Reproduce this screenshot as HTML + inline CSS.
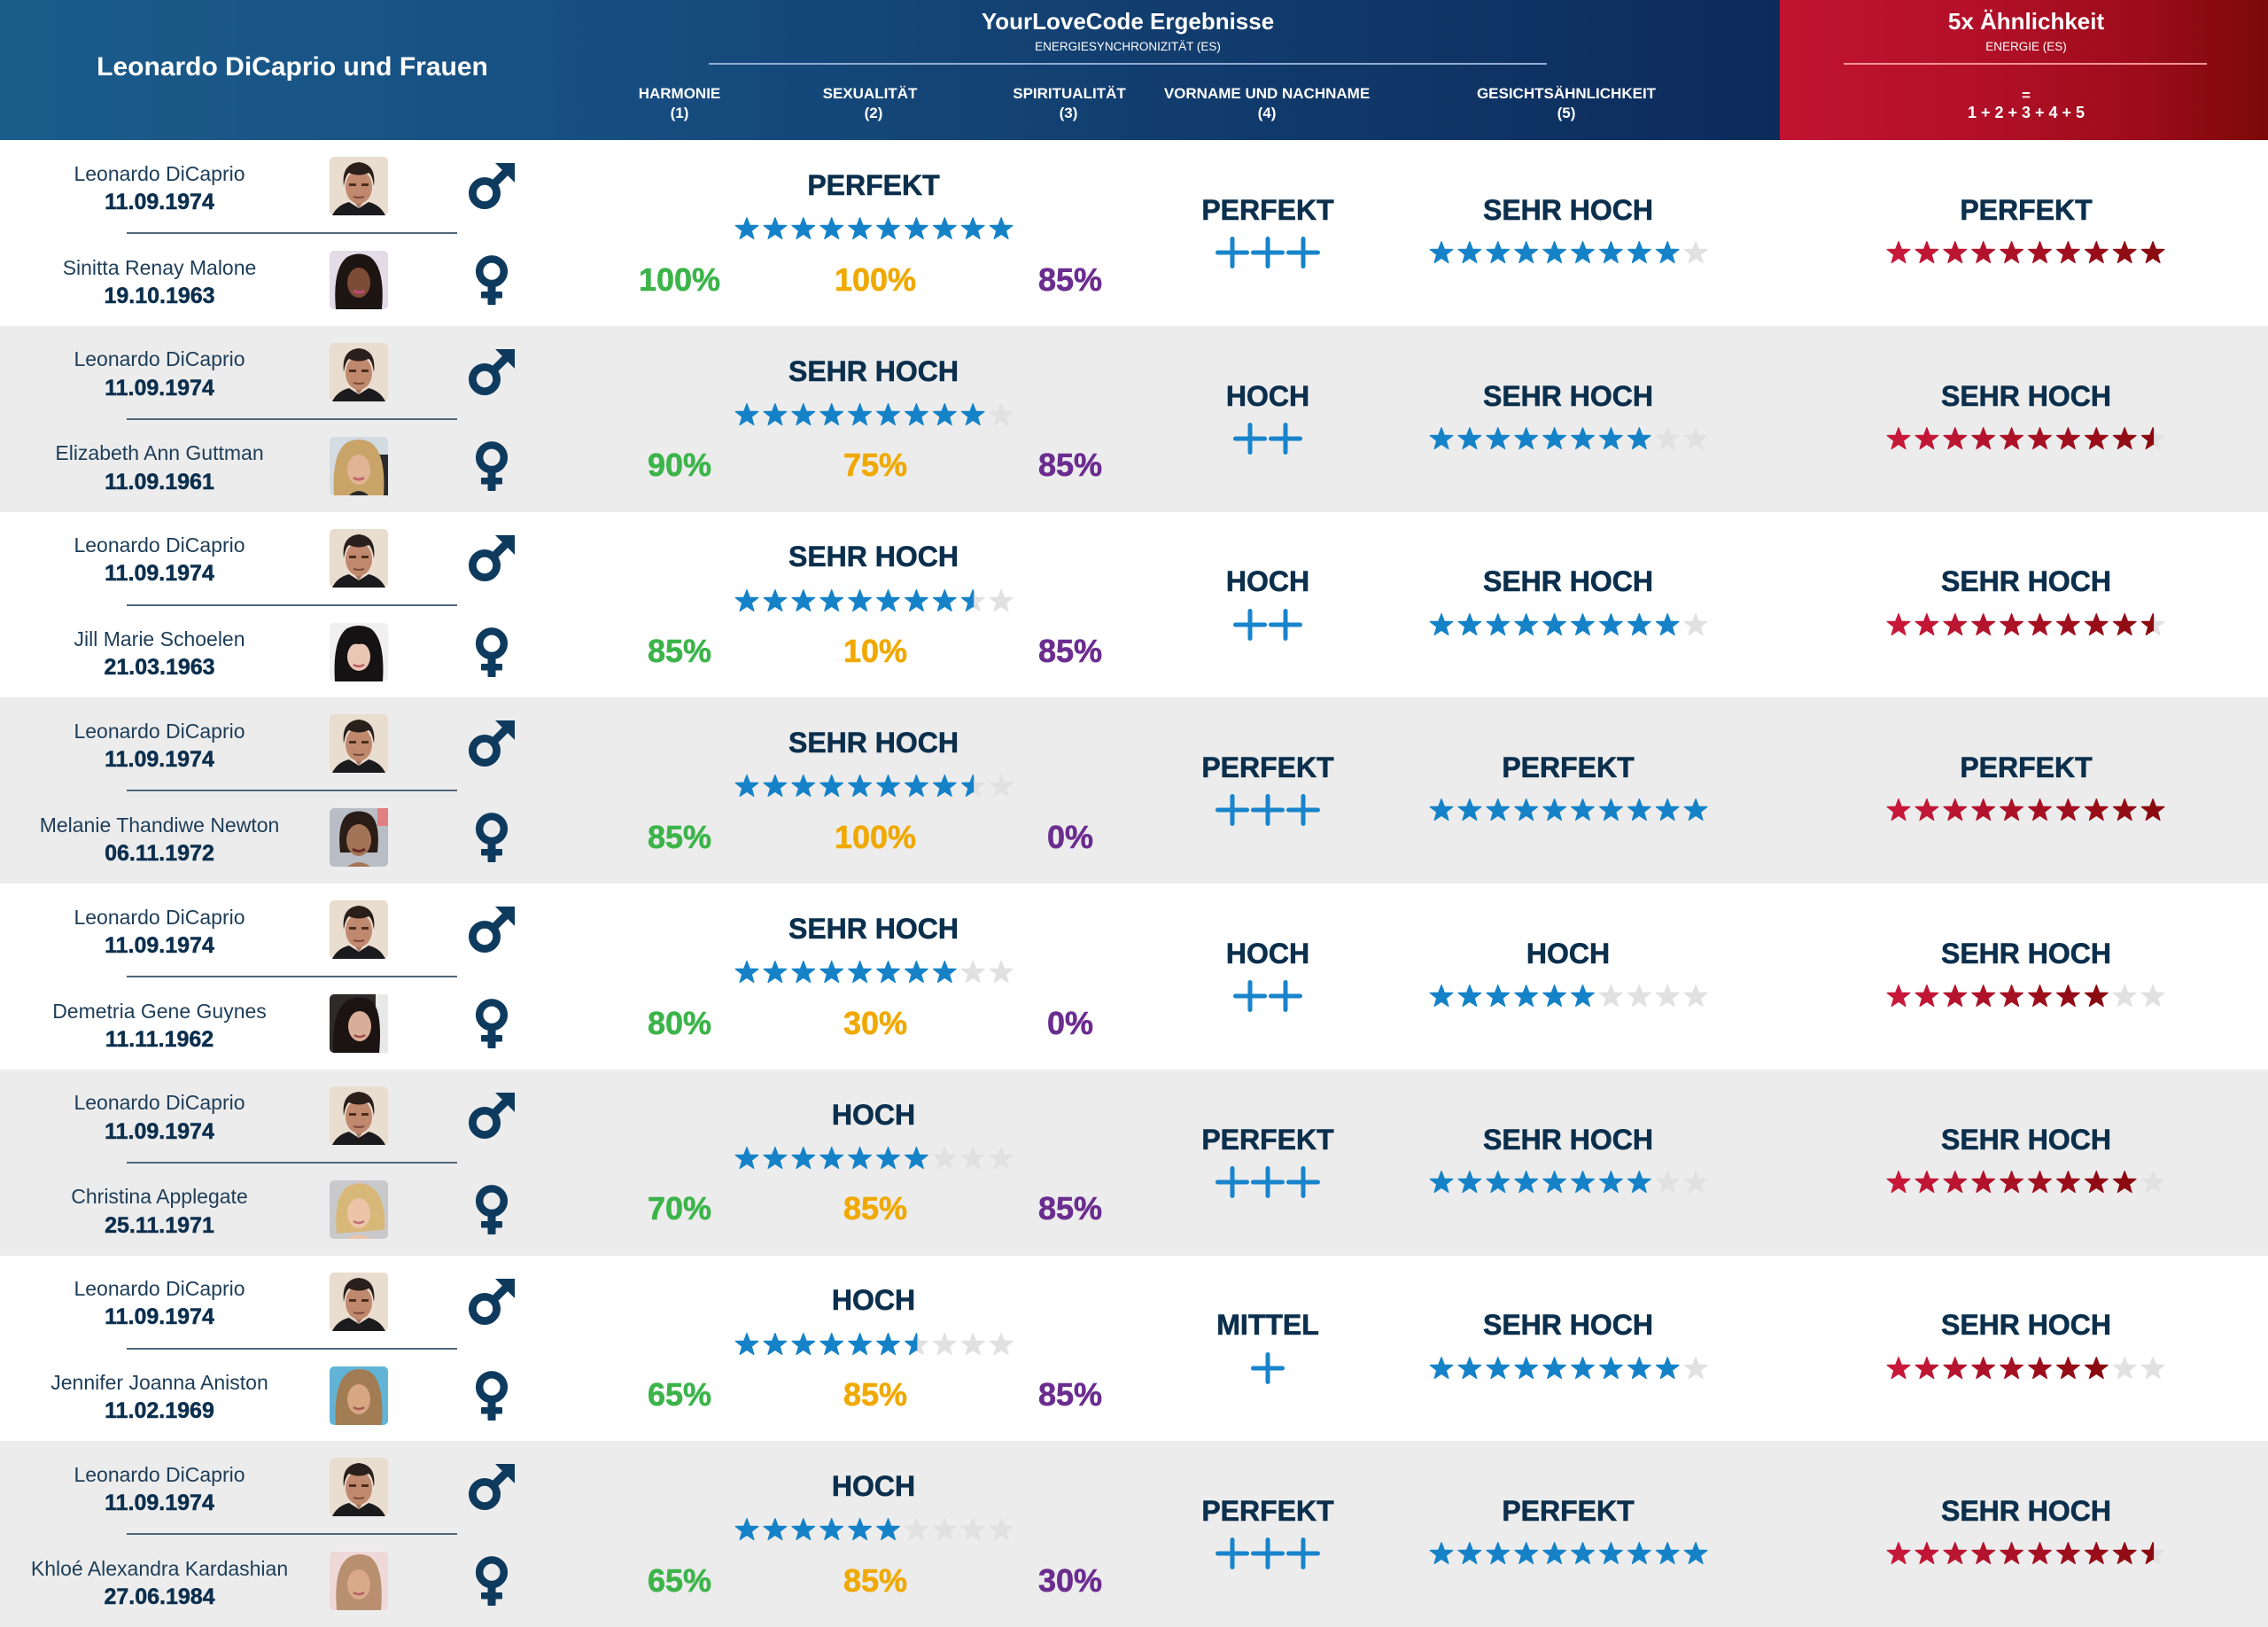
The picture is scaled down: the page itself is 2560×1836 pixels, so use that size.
<!DOCTYPE html>
<html><head><meta charset="utf-8">
<style>
*{box-sizing:border-box}
body{margin:0;width:2560px;height:1836px;overflow:hidden;background:#fff;font-family:"Liberation Sans",sans-serif;position:relative}
.a{position:absolute}
.c{position:absolute;transform:translateX(-50%);white-space:nowrap;line-height:1}
.hb{position:absolute;left:0;top:0;width:2009px;height:158px;background:linear-gradient(90deg,#1b5c8b 0%,#175083 30%,#123f70 62%,#0c2b5b 100%)}
.hr{position:absolute;left:2009px;top:0;width:551px;height:158px;background:linear-gradient(90deg,#c11331 0%,#b31029 40%,#9c0c19 75%,#7b0909 100%)}
.ch{font-size:17px;font-weight:bold;top:97.3px;color:#fff}
.cn{font-size:17px;font-weight:bold;top:118.7px;color:#fff}
.row{position:absolute;left:0;width:2560px;height:209.75px}
.gr{background:#ececec}
.n1,.n2{font-size:23px;color:#1d3d58;left:180px}
.n1{top:26.5px}.n2{top:132.5px}
.d1,.d2{font-size:25px;font-weight:bold;color:#0c2f4e;left:180px;-webkit-text-stroke:0.5px #0c2f4e}
.d1{top:57.8px}.d2{top:163.8px}
.sep{position:absolute;left:143px;top:104px;width:373px;height:2px;background:#4f677b}
.ph{position:absolute;left:372px;width:66px;height:66px}
.ph1{top:19px}.ph2{top:125px}
.ms{position:absolute;left:529px;top:26px;width:52px;height:52px}
.fs{position:absolute;left:537px;top:130px;width:36px;height:56px}
.p{font-size:36px;font-weight:bold;top:139.5px;-webkit-text-stroke:0.6px currentColor}
.pg{left:767px;color:#3cb44a}
.po{left:988px;color:#f0a900}
.pp{left:1208px;color:#6b2d8f}
.l{font-size:32px;font-weight:bold;color:#0b2f4c;-webkit-text-stroke:0.6px #0b2f4c}
.l2{left:986px;top:34.9px}
.l4{left:1431px;top:62.9px}
.l5{left:1770px;top:62.9px}
.l6{left:2287px;top:62.9px}
.s{position:absolute;overflow:visible}
.s2{left:830px;top:87px}
.s5{left:1614px;top:114px}
.s6{left:2130px;top:114px}
.s use{fill:currentColor;stroke:currentColor;stroke-width:1.2px;stroke-linejoin:round}
.s .b{color:#1582c8}
.s .g{color:#e1e1e1}
.pl{position:absolute;top:109px}
.pl rect{fill:#1884cb}
</style></head><body>
<svg width="0" height="0" style="position:absolute"><defs>
<path id="st" d="M13 0.6 L16.3 9.2 L25.8 9.5 L18.3 15.4 L20.9 24.5 L13 19.3 L5.1 24.5 L7.7 15.4 L0.2 9.5 L9.7 9.2Z"/>
<symbol id="male" viewBox="0 0 52 52">
<circle cx="18" cy="34" r="13.6" fill="none" stroke="#0e3a5e" stroke-width="8.8"/>
<path d="M26 26 L45 7" stroke="#0e3a5e" stroke-width="8.8"/>
<path d="M30 0 H52 V22 Z" fill="#0e3a5e"/>
</symbol>
<symbol id="fem" viewBox="0 0 36 56">
<circle cx="18" cy="18.2" r="13.8" fill="none" stroke="#0e3a5e" stroke-width="8.5"/>
<rect x="13.5" y="30" width="9" height="26" rx="1" fill="#0e3a5e"/>
<rect x="6" y="41" width="24" height="7.5" rx="1" fill="#0e3a5e"/>
</symbol>
<symbol id="leo" viewBox="0 0 66 66">
<rect width="66" height="66" rx="5" fill="#e9ddcf"/>
<path d="M3 66 Q9 54 22 51 L33 58 L44 51 Q57 54 63 66Z" fill="#1b1a1d"/>
<path d="M26 48 L33 58 L40 48Z" fill="#a87560"/>
<ellipse cx="33" cy="34" rx="15" ry="19" fill="#c0896e"/>
<path d="M16 33 Q13 8 33 6 Q53 8 50 33 Q48 20 44 18 Q33 23 22 18 Q18 21 16 33Z" fill="#2a1f1a"/>
<rect x="22" y="30" width="8" height="3" fill="#4a2e22"/><rect x="36" y="30" width="8" height="3" fill="#4a2e22"/>
<path d="M27 45 Q33 47 39 45" stroke="#7a4a3a" stroke-width="2" fill="none"/>
</symbol>
</defs></svg>

<!-- HEADER -->
<div class="hb"></div>
<div class="hr"></div>
<div class="c" style="left:330px;top:60.6px;font-size:30px;font-weight:bold;color:#fff">Leonardo DiCaprio und Frauen</div>
<div class="c" style="left:1273px;top:11.3px;font-size:26px;font-weight:bold;color:#fff">YourLoveCode Ergebnisse</div>
<div class="c" style="left:1273px;top:45.6px;font-size:13.5px;color:#fff">ENERGIESYNCHRONIZITÄT (ES)</div>
<div class="a" style="left:800px;top:71px;width:946px;height:2px;background:#93acd0"></div>
<div class="c ch" style="left:767px">HARMONIE</div><div class="c cn" style="left:767px">(1)</div>
<div class="c ch" style="left:982px">SEXUALITÄT</div><div class="c cn" style="left:986px">(2)</div>
<div class="c ch" style="left:1207px">SPIRITUALITÄT</div><div class="c cn" style="left:1206px">(3)</div>
<div class="c ch" style="left:1430px">VORNAME UND NACHNAME</div><div class="c cn" style="left:1430px">(4)</div>
<div class="c ch" style="left:1768px">GESICHTSÄHNLICHKEIT</div><div class="c cn" style="left:1768px">(5)</div>
<div class="c" style="left:2287px;top:11.3px;font-size:26px;font-weight:bold;color:#fff">5x Ähnlichkeit</div>
<div class="c" style="left:2287px;top:45.6px;font-size:13.5px;color:#fff">ENERGIE (ES)</div>
<div class="a" style="left:2081px;top:71px;width:410px;height:2px;background:#f1939b"></div>
<div class="c" style="left:2287px;top:98.6px;font-size:17px;font-weight:bold;color:#fff">=</div>
<div class="c" style="left:2287px;top:117.8px;font-size:18px;font-weight:bold;color:#fff">1 + 2 + 3 + 4 + 5</div>

<!-- ROW 1 -->
<div class="row" style="top:158px">
<div class="c n1">Leonardo DiCaprio</div><div class="c d1">11.09.1974</div>
<div class="sep"></div>
<div class="c n2">Sinitta Renay Malone</div><div class="c d2">19.10.1963</div>
<svg class="ph ph1"><use href="#leo"/></svg>
<svg class="ph ph2" viewBox="0 0 66 66"><rect width="66" height="66" rx="5" fill="#e3dbe6"/><path d="M7 66 Q3 20 20 7 Q33 0 46 7 Q63 20 59 66Z" fill="#1d1512"/><ellipse cx="33" cy="36" rx="13" ry="17" fill="#7d4c36"/><path d="M27 45 Q33 49 39 45" stroke="#c44a7a" stroke-width="3" fill="none"/></svg>
<svg class="ms"><use href="#male"/></svg><svg class="fs"><use href="#fem"/></svg>
<div class="c l l2">PERFEKT</div>
<svg class="s s2" width="314" height="26"><use href="#st" x="0" class="b"/><use href="#st" x="31.9" class="b"/><use href="#st" x="63.8" class="b"/><use href="#st" x="95.7" class="b"/><use href="#st" x="127.6" class="b"/><use href="#st" x="159.5" class="b"/><use href="#st" x="191.4" class="b"/><use href="#st" x="223.3" class="b"/><use href="#st" x="255.2" class="b"/><use href="#st" x="287.1" class="b"/></svg>
<div class="c p pg">100%</div><div class="c p po">100%</div><div class="c p pp">85%</div>
<div class="c l l4">PERFEKT</div>
<svg class="pl" style="left:1372px" width="118" height="36"><rect x="0" y="15.5" width="38" height="5" rx="2.5"/><rect x="16.5" y="0" width="5" height="36" rx="2.5"/><rect x="40" y="15.5" width="38" height="5" rx="2.5"/><rect x="56.5" y="0" width="5" height="36" rx="2.5"/><rect x="80" y="15.5" width="38" height="5" rx="2.5"/><rect x="96.5" y="0" width="5" height="36" rx="2.5"/></svg>
<div class="c l l5">SEHR HOCH</div>
<svg class="s s5" width="314" height="26"><use href="#st" x="0" class="b"/><use href="#st" x="31.9" class="b"/><use href="#st" x="63.8" class="b"/><use href="#st" x="95.7" class="b"/><use href="#st" x="127.6" class="b"/><use href="#st" x="159.5" class="b"/><use href="#st" x="191.4" class="b"/><use href="#st" x="223.3" class="b"/><use href="#st" x="255.2" class="b"/><use href="#st" x="287.1" class="g"/></svg>
<div class="c l l6">PERFEKT</div>
<svg class="s s6" width="314" height="26"><use href="#st" x="0" style="color:#c8183a"/><use href="#st" x="31.9" style="color:#c11635"/><use href="#st" x="63.8" style="color:#ba1531"/><use href="#st" x="95.7" style="color:#b3132c"/><use href="#st" x="127.6" style="color:#ac1227"/><use href="#st" x="159.5" style="color:#a61023"/><use href="#st" x="191.4" style="color:#9f0f1e"/><use href="#st" x="223.3" style="color:#980d19"/><use href="#st" x="255.2" style="color:#910c15"/><use href="#st" x="287.1" style="color:#8a0a10"/></svg>
</div>

<!-- ROW 2 -->
<div class="row gr" style="top:367.75px">
<div class="c n1">Leonardo DiCaprio</div><div class="c d1">11.09.1974</div>
<div class="sep"></div>
<div class="c n2">Elizabeth Ann Guttman</div><div class="c d2">11.09.1961</div>
<svg class="ph ph1"><use href="#leo"/></svg>
<svg class="ph ph2" viewBox="0 0 66 66"><rect width="66" height="66" rx="5" fill="#d3dbe3"/><rect x="56" y="20" width="10" height="46" fill="#2a2a2e"/><path d="M5 66 Q2 18 20 6 Q33 0 46 6 Q64 18 61 66Z" fill="#c9a468"/><ellipse cx="33" cy="37" rx="13" ry="17" fill="#e2b497"/><path d="M27 46 Q33 50 39 46" stroke="#c06a6a" stroke-width="3" fill="none"/><path d="M22 66 Q33 56 44 66Z" fill="#2a2a2a"/></svg>
<svg class="ms"><use href="#male"/></svg><svg class="fs"><use href="#fem"/></svg>
<div class="c l l2">SEHR HOCH</div>
<svg class="s s2" width="314" height="26"><use href="#st" x="0" class="b"/><use href="#st" x="31.9" class="b"/><use href="#st" x="63.8" class="b"/><use href="#st" x="95.7" class="b"/><use href="#st" x="127.6" class="b"/><use href="#st" x="159.5" class="b"/><use href="#st" x="191.4" class="b"/><use href="#st" x="223.3" class="b"/><use href="#st" x="255.2" class="b"/><use href="#st" x="287.1" class="g"/></svg>
<div class="c p pg">90%</div><div class="c p po">75%</div><div class="c p pp">85%</div>
<div class="c l l4">HOCH</div>
<svg class="pl" style="left:1392px" width="78" height="36"><rect x="0" y="15.5" width="38" height="5" rx="2.5"/><rect x="16.5" y="0" width="5" height="36" rx="2.5"/><rect x="40" y="15.5" width="38" height="5" rx="2.5"/><rect x="56.5" y="0" width="5" height="36" rx="2.5"/></svg>
<div class="c l l5">SEHR HOCH</div>
<svg class="s s5" width="314" height="26"><use href="#st" x="0" class="b"/><use href="#st" x="31.9" class="b"/><use href="#st" x="63.8" class="b"/><use href="#st" x="95.7" class="b"/><use href="#st" x="127.6" class="b"/><use href="#st" x="159.5" class="b"/><use href="#st" x="191.4" class="b"/><use href="#st" x="223.3" class="b"/><use href="#st" x="255.2" class="g"/><use href="#st" x="287.1" class="g"/></svg>
<div class="c l l6">SEHR HOCH</div>
<svg class="s s6" width="314" height="26"><use href="#st" x="0" style="color:#c8183a"/><use href="#st" x="31.9" style="color:#c11635"/><use href="#st" x="63.8" style="color:#ba1531"/><use href="#st" x="95.7" style="color:#b3132c"/><use href="#st" x="127.6" style="color:#ac1227"/><use href="#st" x="159.5" style="color:#a61023"/><use href="#st" x="191.4" style="color:#9f0f1e"/><use href="#st" x="223.3" style="color:#980d19"/><use href="#st" x="255.2" style="color:#910c15"/><use href="#st" x="287.1" class="g"/><svg x="287.1" width="14" height="26"><use href="#st" style="color:#8a0a10"/></svg></svg>
</div>

<!-- ROW 3 -->
<div class="row" style="top:577.5px">
<div class="c n1">Leonardo DiCaprio</div><div class="c d1">11.09.1974</div>
<div class="sep"></div>
<div class="c n2">Jill Marie Schoelen</div><div class="c d2">21.03.1963</div>
<svg class="ph ph1"><use href="#leo"/></svg>
<svg class="ph ph2" viewBox="0 0 66 66"><rect width="66" height="66" rx="5" fill="#f0f0f0"/><path d="M6 66 Q3 18 20 6 Q33 0 46 6 Q63 18 60 66Z" fill="#141212"/><ellipse cx="33" cy="38" rx="13" ry="16" fill="#ecc6b4"/><path d="M18 30 Q22 16 33 15 Q44 16 48 30 Q40 22 33 24 Q26 22 18 30Z" fill="#141212"/><path d="M27 47 Q33 51 39 47" stroke="#b85a60" stroke-width="2.5" fill="none"/></svg>
<svg class="ms"><use href="#male"/></svg><svg class="fs"><use href="#fem"/></svg>
<div class="c l l2">SEHR HOCH</div>
<svg class="s s2" width="314" height="26"><use href="#st" x="0" class="b"/><use href="#st" x="31.9" class="b"/><use href="#st" x="63.8" class="b"/><use href="#st" x="95.7" class="b"/><use href="#st" x="127.6" class="b"/><use href="#st" x="159.5" class="b"/><use href="#st" x="191.4" class="b"/><use href="#st" x="223.3" class="b"/><use href="#st" x="255.2" class="g"/><svg x="255.2" width="14" height="26"><use href="#st" class="b"/></svg><use href="#st" x="287.1" class="g"/></svg>
<div class="c p pg">85%</div><div class="c p po">10%</div><div class="c p pp">85%</div>
<div class="c l l4">HOCH</div>
<svg class="pl" style="left:1392px" width="78" height="36"><rect x="0" y="15.5" width="38" height="5" rx="2.5"/><rect x="16.5" y="0" width="5" height="36" rx="2.5"/><rect x="40" y="15.5" width="38" height="5" rx="2.5"/><rect x="56.5" y="0" width="5" height="36" rx="2.5"/></svg>
<div class="c l l5">SEHR HOCH</div>
<svg class="s s5" width="314" height="26"><use href="#st" x="0" class="b"/><use href="#st" x="31.9" class="b"/><use href="#st" x="63.8" class="b"/><use href="#st" x="95.7" class="b"/><use href="#st" x="127.6" class="b"/><use href="#st" x="159.5" class="b"/><use href="#st" x="191.4" class="b"/><use href="#st" x="223.3" class="b"/><use href="#st" x="255.2" class="b"/><use href="#st" x="287.1" class="g"/></svg>
<div class="c l l6">SEHR HOCH</div>
<svg class="s s6" width="314" height="26"><use href="#st" x="0" style="color:#c8183a"/><use href="#st" x="31.9" style="color:#c11635"/><use href="#st" x="63.8" style="color:#ba1531"/><use href="#st" x="95.7" style="color:#b3132c"/><use href="#st" x="127.6" style="color:#ac1227"/><use href="#st" x="159.5" style="color:#a61023"/><use href="#st" x="191.4" style="color:#9f0f1e"/><use href="#st" x="223.3" style="color:#980d19"/><use href="#st" x="255.2" style="color:#910c15"/><use href="#st" x="287.1" class="g"/><svg x="287.1" width="14" height="26"><use href="#st" style="color:#8a0a10"/></svg></svg>
</div>

<!-- ROW 4 -->
<div class="row gr" style="top:787.25px">
<div class="c n1">Leonardo DiCaprio</div><div class="c d1">11.09.1974</div>
<div class="sep"></div>
<div class="c n2">Melanie Thandiwe Newton</div><div class="c d2">06.11.1972</div>
<svg class="ph ph1"><use href="#leo"/></svg>
<svg class="ph ph2" viewBox="0 0 66 66"><rect width="66" height="66" rx="5" fill="#b9bec6"/><rect x="54" y="0" width="12" height="20" fill="#e08080"/><path d="M12 50 Q8 14 22 6 Q33 1 44 6 Q58 14 54 50Z" fill="#2a1c16"/><ellipse cx="33" cy="36" rx="14" ry="18" fill="#a47458"/><path d="M26 46 Q33 51 40 46" stroke="#6a2a2a" stroke-width="3" fill="none"/><path d="M20 66 Q33 56 46 66Z" fill="#a47458"/></svg>
<svg class="ms"><use href="#male"/></svg><svg class="fs"><use href="#fem"/></svg>
<div class="c l l2">SEHR HOCH</div>
<svg class="s s2" width="314" height="26"><use href="#st" x="0" class="b"/><use href="#st" x="31.9" class="b"/><use href="#st" x="63.8" class="b"/><use href="#st" x="95.7" class="b"/><use href="#st" x="127.6" class="b"/><use href="#st" x="159.5" class="b"/><use href="#st" x="191.4" class="b"/><use href="#st" x="223.3" class="b"/><use href="#st" x="255.2" class="g"/><svg x="255.2" width="14" height="26"><use href="#st" class="b"/></svg><use href="#st" x="287.1" class="g"/></svg>
<div class="c p pg">85%</div><div class="c p po">100%</div><div class="c p pp">0%</div>
<div class="c l l4">PERFEKT</div>
<svg class="pl" style="left:1372px" width="118" height="36"><rect x="0" y="15.5" width="38" height="5" rx="2.5"/><rect x="16.5" y="0" width="5" height="36" rx="2.5"/><rect x="40" y="15.5" width="38" height="5" rx="2.5"/><rect x="56.5" y="0" width="5" height="36" rx="2.5"/><rect x="80" y="15.5" width="38" height="5" rx="2.5"/><rect x="96.5" y="0" width="5" height="36" rx="2.5"/></svg>
<div class="c l l5">PERFEKT</div>
<svg class="s s5" width="314" height="26"><use href="#st" x="0" class="b"/><use href="#st" x="31.9" class="b"/><use href="#st" x="63.8" class="b"/><use href="#st" x="95.7" class="b"/><use href="#st" x="127.6" class="b"/><use href="#st" x="159.5" class="b"/><use href="#st" x="191.4" class="b"/><use href="#st" x="223.3" class="b"/><use href="#st" x="255.2" class="b"/><use href="#st" x="287.1" class="b"/></svg>
<div class="c l l6">PERFEKT</div>
<svg class="s s6" width="314" height="26"><use href="#st" x="0" style="color:#c8183a"/><use href="#st" x="31.9" style="color:#c11635"/><use href="#st" x="63.8" style="color:#ba1531"/><use href="#st" x="95.7" style="color:#b3132c"/><use href="#st" x="127.6" style="color:#ac1227"/><use href="#st" x="159.5" style="color:#a61023"/><use href="#st" x="191.4" style="color:#9f0f1e"/><use href="#st" x="223.3" style="color:#980d19"/><use href="#st" x="255.2" style="color:#910c15"/><use href="#st" x="287.1" style="color:#8a0a10"/></svg>
</div>

<!-- ROW 5 -->
<div class="row" style="top:997px">
<div class="c n1">Leonardo DiCaprio</div><div class="c d1">11.09.1974</div>
<div class="sep"></div>
<div class="c n2">Demetria Gene Guynes</div><div class="c d2">11.11.1962</div>
<svg class="ph ph1"><use href="#leo"/></svg>
<svg class="ph ph2" viewBox="0 0 66 66"><rect width="66" height="66" rx="5" fill="#2e2a2a"/><rect x="52" y="0" width="14" height="66" fill="#e8e8e8"/><path d="M4 66 Q2 16 22 6 Q36 0 48 8 Q60 20 56 66Z" fill="#1c1412"/><ellipse cx="34" cy="36" rx="13" ry="17" fill="#d9ae98"/><path d="M28 46 Q34 50 40 46" stroke="#a04a4a" stroke-width="2.5" fill="none"/></svg>
<svg class="ms"><use href="#male"/></svg><svg class="fs"><use href="#fem"/></svg>
<div class="c l l2">SEHR HOCH</div>
<svg class="s s2" width="314" height="26"><use href="#st" x="0" class="b"/><use href="#st" x="31.9" class="b"/><use href="#st" x="63.8" class="b"/><use href="#st" x="95.7" class="b"/><use href="#st" x="127.6" class="b"/><use href="#st" x="159.5" class="b"/><use href="#st" x="191.4" class="b"/><use href="#st" x="223.3" class="b"/><use href="#st" x="255.2" class="g"/><use href="#st" x="287.1" class="g"/></svg>
<div class="c p pg">80%</div><div class="c p po">30%</div><div class="c p pp">0%</div>
<div class="c l l4">HOCH</div>
<svg class="pl" style="left:1392px" width="78" height="36"><rect x="0" y="15.5" width="38" height="5" rx="2.5"/><rect x="16.5" y="0" width="5" height="36" rx="2.5"/><rect x="40" y="15.5" width="38" height="5" rx="2.5"/><rect x="56.5" y="0" width="5" height="36" rx="2.5"/></svg>
<div class="c l l5">HOCH</div>
<svg class="s s5" width="314" height="26"><use href="#st" x="0" class="b"/><use href="#st" x="31.9" class="b"/><use href="#st" x="63.8" class="b"/><use href="#st" x="95.7" class="b"/><use href="#st" x="127.6" class="b"/><use href="#st" x="159.5" class="b"/><use href="#st" x="191.4" class="g"/><use href="#st" x="223.3" class="g"/><use href="#st" x="255.2" class="g"/><use href="#st" x="287.1" class="g"/></svg>
<div class="c l l6">SEHR HOCH</div>
<svg class="s s6" width="314" height="26"><use href="#st" x="0" style="color:#c8183a"/><use href="#st" x="31.9" style="color:#bf1634"/><use href="#st" x="63.8" style="color:#b6142e"/><use href="#st" x="95.7" style="color:#ad1228"/><use href="#st" x="127.6" style="color:#a51022"/><use href="#st" x="159.5" style="color:#9c0e1c"/><use href="#st" x="191.4" style="color:#930c16"/><use href="#st" x="223.3" style="color:#8a0a10"/><use href="#st" x="255.2" class="g"/><use href="#st" x="287.1" class="g"/></svg>
</div>

<!-- ROW 6 -->
<div class="row gr" style="top:1206.75px">
<div class="c n1">Leonardo DiCaprio</div><div class="c d1">11.09.1974</div>
<div class="sep"></div>
<div class="c n2">Christina Applegate</div><div class="c d2">25.11.1971</div>
<svg class="ph ph1"><use href="#leo"/></svg>
<svg class="ph ph2" viewBox="0 0 66 66"><rect width="66" height="66" rx="5" fill="#c9c9cb"/><path d="M8 60 Q4 16 22 6 Q36 0 48 8 Q64 20 62 56Z" fill="#d8b878"/><ellipse cx="33" cy="37" rx="13" ry="17" fill="#ecc4a8"/><path d="M27 46 Q33 50 39 46" stroke="#c07070" stroke-width="2.5" fill="none"/><path d="M20 66 Q33 57 46 66Z" fill="#ecc4a8"/></svg>
<svg class="ms"><use href="#male"/></svg><svg class="fs"><use href="#fem"/></svg>
<div class="c l l2">HOCH</div>
<svg class="s s2" width="314" height="26"><use href="#st" x="0" class="b"/><use href="#st" x="31.9" class="b"/><use href="#st" x="63.8" class="b"/><use href="#st" x="95.7" class="b"/><use href="#st" x="127.6" class="b"/><use href="#st" x="159.5" class="b"/><use href="#st" x="191.4" class="b"/><use href="#st" x="223.3" class="g"/><use href="#st" x="255.2" class="g"/><use href="#st" x="287.1" class="g"/></svg>
<div class="c p pg">70%</div><div class="c p po">85%</div><div class="c p pp">85%</div>
<div class="c l l4">PERFEKT</div>
<svg class="pl" style="left:1372px" width="118" height="36"><rect x="0" y="15.5" width="38" height="5" rx="2.5"/><rect x="16.5" y="0" width="5" height="36" rx="2.5"/><rect x="40" y="15.5" width="38" height="5" rx="2.5"/><rect x="56.5" y="0" width="5" height="36" rx="2.5"/><rect x="80" y="15.5" width="38" height="5" rx="2.5"/><rect x="96.5" y="0" width="5" height="36" rx="2.5"/></svg>
<div class="c l l5">SEHR HOCH</div>
<svg class="s s5" width="314" height="26"><use href="#st" x="0" class="b"/><use href="#st" x="31.9" class="b"/><use href="#st" x="63.8" class="b"/><use href="#st" x="95.7" class="b"/><use href="#st" x="127.6" class="b"/><use href="#st" x="159.5" class="b"/><use href="#st" x="191.4" class="b"/><use href="#st" x="223.3" class="b"/><use href="#st" x="255.2" class="g"/><use href="#st" x="287.1" class="g"/></svg>
<div class="c l l6">SEHR HOCH</div>
<svg class="s s6" width="314" height="26"><use href="#st" x="0" style="color:#c8183a"/><use href="#st" x="31.9" style="color:#c01635"/><use href="#st" x="63.8" style="color:#b91530"/><use href="#st" x="95.7" style="color:#b1132a"/><use href="#st" x="127.6" style="color:#a91125"/><use href="#st" x="159.5" style="color:#a10f20"/><use href="#st" x="191.4" style="color:#9a0e1a"/><use href="#st" x="223.3" style="color:#920c15"/><use href="#st" x="255.2" style="color:#8a0a10"/><use href="#st" x="287.1" class="g"/></svg>
</div>

<!-- ROW 7 -->
<div class="row" style="top:1416.5px">
<div class="c n1">Leonardo DiCaprio</div><div class="c d1">11.09.1974</div>
<div class="sep"></div>
<div class="c n2">Jennifer Joanna Aniston</div><div class="c d2">11.02.1969</div>
<svg class="ph ph1"><use href="#leo"/></svg>
<svg class="ph ph2" viewBox="0 0 66 66"><rect width="66" height="66" rx="5" fill="#62b4d6"/><path d="M7 66 Q4 18 22 6 Q34 0 46 6 Q62 18 59 66Z" fill="#a27c52"/><ellipse cx="33" cy="37" rx="13" ry="17" fill="#d8a682"/><path d="M27 46 Q33 50 39 46" stroke="#a0584a" stroke-width="2.5" fill="none"/></svg>
<svg class="ms"><use href="#male"/></svg><svg class="fs"><use href="#fem"/></svg>
<div class="c l l2">HOCH</div>
<svg class="s s2" width="314" height="26"><use href="#st" x="0" class="b"/><use href="#st" x="31.9" class="b"/><use href="#st" x="63.8" class="b"/><use href="#st" x="95.7" class="b"/><use href="#st" x="127.6" class="b"/><use href="#st" x="159.5" class="b"/><use href="#st" x="191.4" class="g"/><svg x="191.4" width="14" height="26"><use href="#st" class="b"/></svg><use href="#st" x="223.3" class="g"/><use href="#st" x="255.2" class="g"/><use href="#st" x="287.1" class="g"/></svg>
<div class="c p pg">65%</div><div class="c p po">85%</div><div class="c p pp">85%</div>
<div class="c l l4">MITTEL</div>
<svg class="pl" style="left:1412px" width="38" height="36"><rect x="0" y="15.5" width="38" height="5" rx="2.5"/><rect x="16.5" y="0" width="5" height="36" rx="2.5"/></svg>
<div class="c l l5">SEHR HOCH</div>
<svg class="s s5" width="314" height="26"><use href="#st" x="0" class="b"/><use href="#st" x="31.9" class="b"/><use href="#st" x="63.8" class="b"/><use href="#st" x="95.7" class="b"/><use href="#st" x="127.6" class="b"/><use href="#st" x="159.5" class="b"/><use href="#st" x="191.4" class="b"/><use href="#st" x="223.3" class="b"/><use href="#st" x="255.2" class="b"/><use href="#st" x="287.1" class="g"/></svg>
<div class="c l l6">SEHR HOCH</div>
<svg class="s s6" width="314" height="26"><use href="#st" x="0" style="color:#c8183a"/><use href="#st" x="31.9" style="color:#bf1634"/><use href="#st" x="63.8" style="color:#b6142e"/><use href="#st" x="95.7" style="color:#ad1228"/><use href="#st" x="127.6" style="color:#a51022"/><use href="#st" x="159.5" style="color:#9c0e1c"/><use href="#st" x="191.4" style="color:#930c16"/><use href="#st" x="223.3" style="color:#8a0a10"/><use href="#st" x="255.2" class="g"/><use href="#st" x="287.1" class="g"/></svg>
</div>

<!-- ROW 8 -->
<div class="row gr" style="top:1626.25px">
<div class="c n1">Leonardo DiCaprio</div><div class="c d1">11.09.1974</div>
<div class="sep"></div>
<div class="c n2">Khloé Alexandra Kardashian</div><div class="c d2">27.06.1984</div>
<svg class="ph ph1"><use href="#leo"/></svg>
<svg class="ph ph2" viewBox="0 0 66 66"><rect width="66" height="66" rx="5" fill="#efd9d8"/><path d="M8 66 Q4 18 22 6 Q34 0 46 6 Q62 18 58 66Z" fill="#b89070"/><ellipse cx="33" cy="37" rx="13" ry="17" fill="#d9a98a"/><path d="M27 46 Q33 50 39 46" stroke="#b06060" stroke-width="2.5" fill="none"/></svg>
<svg class="ms"><use href="#male"/></svg><svg class="fs"><use href="#fem"/></svg>
<div class="c l l2">HOCH</div>
<svg class="s s2" width="314" height="26"><use href="#st" x="0" class="b"/><use href="#st" x="31.9" class="b"/><use href="#st" x="63.8" class="b"/><use href="#st" x="95.7" class="b"/><use href="#st" x="127.6" class="b"/><use href="#st" x="159.5" class="b"/><use href="#st" x="191.4" class="g"/><use href="#st" x="223.3" class="g"/><use href="#st" x="255.2" class="g"/><use href="#st" x="287.1" class="g"/></svg>
<div class="c p pg">65%</div><div class="c p po">85%</div><div class="c p pp">30%</div>
<div class="c l l4">PERFEKT</div>
<svg class="pl" style="left:1372px" width="118" height="36"><rect x="0" y="15.5" width="38" height="5" rx="2.5"/><rect x="16.5" y="0" width="5" height="36" rx="2.5"/><rect x="40" y="15.5" width="38" height="5" rx="2.5"/><rect x="56.5" y="0" width="5" height="36" rx="2.5"/><rect x="80" y="15.5" width="38" height="5" rx="2.5"/><rect x="96.5" y="0" width="5" height="36" rx="2.5"/></svg>
<div class="c l l5">PERFEKT</div>
<svg class="s s5" width="314" height="26"><use href="#st" x="0" class="b"/><use href="#st" x="31.9" class="b"/><use href="#st" x="63.8" class="b"/><use href="#st" x="95.7" class="b"/><use href="#st" x="127.6" class="b"/><use href="#st" x="159.5" class="b"/><use href="#st" x="191.4" class="b"/><use href="#st" x="223.3" class="b"/><use href="#st" x="255.2" class="b"/><use href="#st" x="287.1" class="b"/></svg>
<div class="c l l6">SEHR HOCH</div>
<svg class="s s6" width="314" height="26"><use href="#st" x="0" style="color:#c8183a"/><use href="#st" x="31.9" style="color:#c11635"/><use href="#st" x="63.8" style="color:#ba1531"/><use href="#st" x="95.7" style="color:#b3132c"/><use href="#st" x="127.6" style="color:#ac1227"/><use href="#st" x="159.5" style="color:#a61023"/><use href="#st" x="191.4" style="color:#9f0f1e"/><use href="#st" x="223.3" style="color:#980d19"/><use href="#st" x="255.2" style="color:#910c15"/><use href="#st" x="287.1" class="g"/><svg x="287.1" width="14" height="26"><use href="#st" style="color:#8a0a10"/></svg></svg>
</div>
</body></html>
